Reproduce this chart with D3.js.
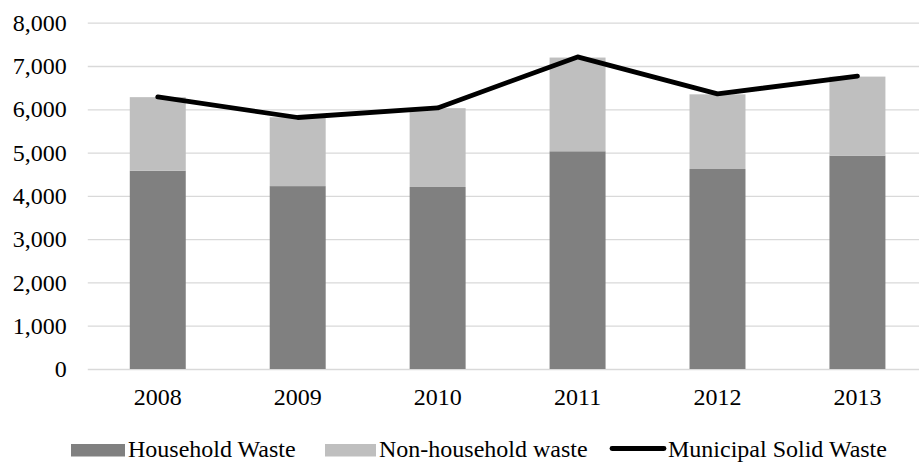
<!DOCTYPE html>
<html><head><meta charset="utf-8">
<script src="https://cdn.jsdelivr.net/npm/d3@7"></script>
<style>
html,body{margin:0;padding:0;background:#fff;overflow:hidden;}
svg text{font-family:"Liberation Serif","Times New Roman",Times,serif !important;}
</style></head>
<body>
<svg id="chart" width="919" height="463"></svg>
<script>
const years = ["2008","2009","2010","2011","2012","2013"];
const household = [4580, 4225, 4205, 5030, 4620, 4930];
const nonHousehold = [1700, 1590, 1820, 2165, 1725, 1825];
const municipal = [6285, 5810, 6030, 7210, 6355, 6765];
const yTicks = [0,1000,2000,3000,4000,5000,6000,7000,8000];
const seriesNames = ["Household Waste","Non-household waste","Municipal Solid Waste"];
const colors = ["#808080","#BFBFBF","#000000"];

const svg = d3.select("#chart");
const pLeft = 87.8, pRight = 927.4, pTop = 22.7, pBottom = 369;
const x = d3.scaleBand().domain(years).range([pLeft,pRight]).paddingInner(0.6).paddingOuter(0.3);
const y = d3.scaleLinear().domain([0,8000]).range([pBottom,pTop]);
const fmt = d3.format(",");
const FS = 24;

// gridlines
const grid = svg.append("g").attr("transform",`translate(${pLeft},0)`)
  .call(d3.axisLeft(y).tickValues(yTicks).tickSize(-(919-pLeft)).tickFormat(""));
grid.select(".domain").remove();
grid.selectAll(".tick line").attr("stroke","#D9D9D9").attr("stroke-width",1.3);

// y labels
const ya = svg.append("g").attr("transform",`translate(${pLeft},0)`)
  .call(d3.axisLeft(y).tickValues(yTicks).tickSize(0).tickPadding(21).tickFormat(fmt));
ya.select(".domain").remove();
ya.selectAll("text").attr("font-size",FS).attr("fill","#000");

// stacked bars
const rows = years.map((yr,i)=>({year:yr, h:household[i], n:nonHousehold[i]}));
const stack = d3.stack().keys(["h","n"])(rows);
svg.append("g").selectAll("g").data(stack).join("g")
  .attr("fill",(d,i)=>colors[i])
  .selectAll("rect").data(d=>d).join("rect")
  .attr("x",d=>x(d.data.year))
  .attr("width",x.bandwidth())
  .attr("y",d=>y(d[1]))
  .attr("height",d=>y(d[0])-y(d[1]));

// line
const line = d3.line().x((d,i)=>x(years[i])+x.bandwidth()/2).y(d=>y(d));
svg.append("path").datum(municipal).attr("d",line)
  .attr("fill","none").attr("stroke","#000").attr("stroke-width",4.8)
  .attr("stroke-linecap","round").attr("stroke-linejoin","round");

// x labels
const xa = svg.append("g").attr("transform",`translate(0,${pBottom})`)
  .call(d3.axisBottom(x).tickSize(0).tickPadding(19));
xa.select(".domain").remove();
xa.selectAll("text").attr("font-size",FS).attr("fill","#000");

// legend
const legend = svg.append("g");
const items = [
  {name:seriesNames[0], color:colors[0], type:"rect", sx:71, tx:128},
  {name:seriesNames[1], color:colors[1], type:"rect", sx:325, tx:379},
  {name:seriesNames[2], color:colors[2], type:"line", sx:612, tx:668}
];
items.forEach(it=>{
  if(it.type==="rect"){
    legend.append("rect").attr("x",it.sx).attr("y",444).attr("width",it.tx-it.sx-3).attr("height",12.5).attr("fill",it.color);
  } else {
    legend.append("line").attr("x1",it.sx).attr("x2",it.tx-4).attr("y1",448.5).attr("y2",448.5)
      .attr("stroke",it.color).attr("stroke-width",4.8).attr("stroke-linecap","round");
  }
  legend.append("text").attr("x",it.tx).attr("y",457).attr("font-size",FS).attr("fill","#000").text(it.name);
});
</script>
</body></html>
